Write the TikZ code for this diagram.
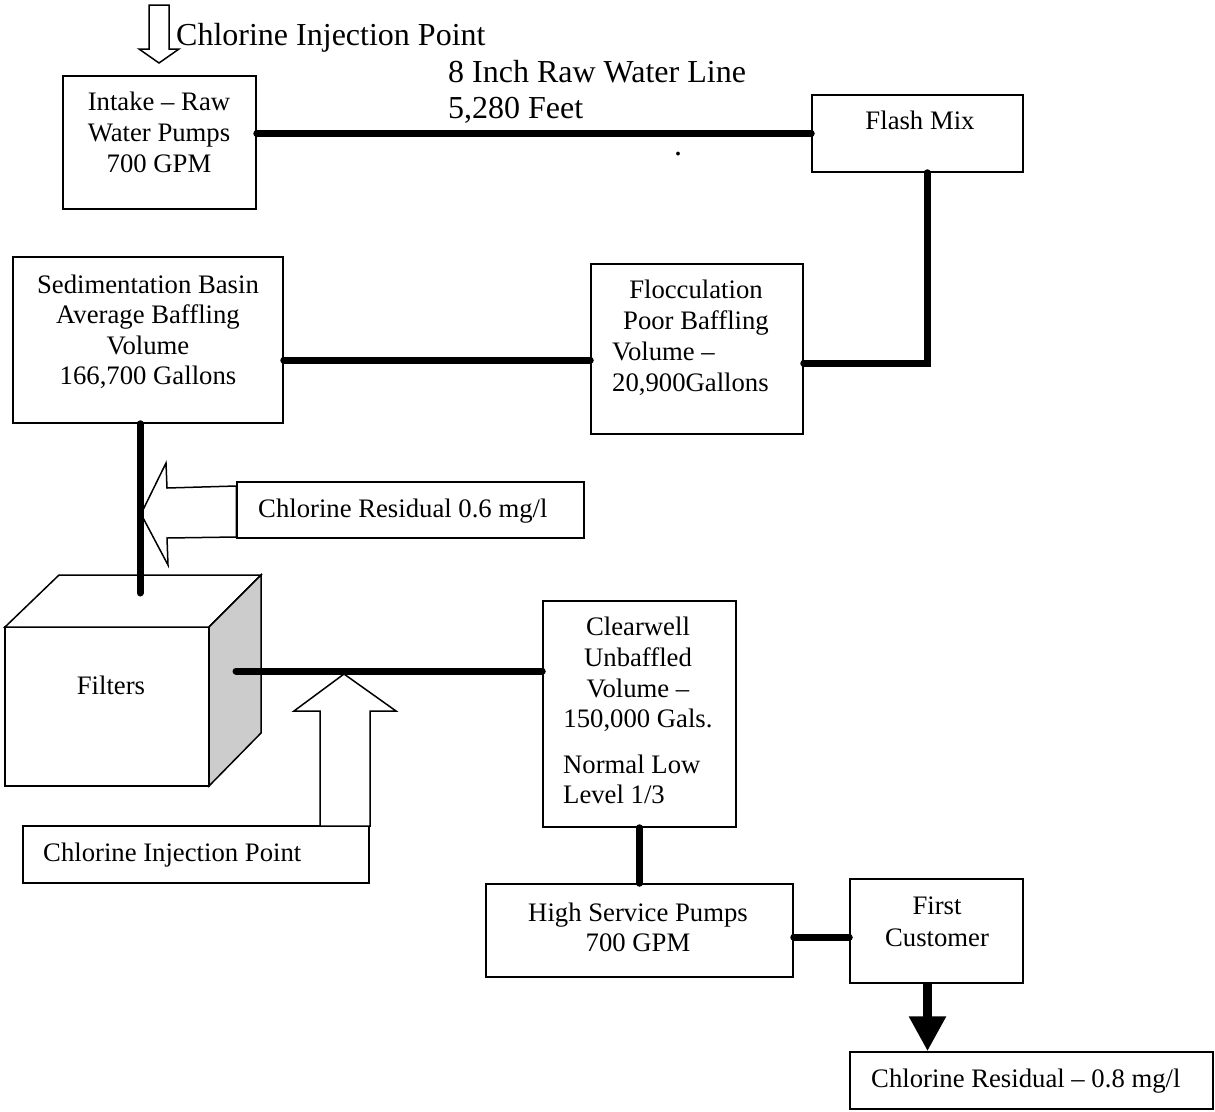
\documentclass[tikz,border=0pt]{standalone}
\usepackage{fontspec}
\setmainfont{Liberation Serif}
\usetikzlibrary{arrows.meta}
\newcommand\bxf{\fontsize{26.7}{30.7}\selectfont}
\newcommand\lgf{\fontsize{32}{36.8}\selectfont}
\tikzset{
  box/.style={draw, line width=1.5pt, inner sep=0pt},
  txt/.style={anchor=base, inner sep=0pt, font=\bxf},
  txtl/.style={anchor=base west, inner sep=0pt, font=\bxf},
  big/.style={anchor=base west, inner sep=0pt, font=\lgf},
  pipe/.style={line width=7pt, line cap=round},
  hollow/.style={draw, fill=white, line width=1.5pt, line join=miter},
}
\begin{document}
\begin{tikzpicture}[x=1pt,y=-1pt]
\useasboundingbox (0,0) rectangle (1215,1111);

% ---------- boxes ----------
\node[box, minimum width=193pt, minimum height=133pt] (intake) at (159.5,142.5) {};
\node[box, minimum width=211pt, minimum height=77pt] (flash) at (917.5,133.5) {};
\node[box, minimum width=212pt, minimum height=170pt] (flocc) at (697,349) {};
\node[box, minimum width=270pt, minimum height=166pt] (sed) at (148,340) {};
\node[box, minimum width=347pt, minimum height=56pt] (cr1) at (410.5,510) {};
\node[box, minimum width=346pt, minimum height=57pt] (cip) at (196,854.5) {};
\node[box, minimum width=193pt, minimum height=226pt] (clear) at (639.5,714) {};
\node[box, minimum width=307pt, minimum height=93pt] (hsp) at (639.5,930.5) {};
\node[box, minimum width=173pt, minimum height=104pt] (fc) at (936.5,931) {};
\node[box, minimum width=363pt, minimum height=57pt] (cr2) at (1031.5,1080.5) {};

% ---------- filters cube ----------
\draw[line width=1.5pt, line join=miter, fill=white] (5,627) rectangle (209,786);
\draw[line width=1.5pt, line join=miter, fill=white] (5,627) -- (59,575) -- (261,575) -- (209,627) -- cycle;
\draw[line width=1.5pt, line join=miter, fill=black!20] (209,627) -- (261,575) -- (261,733) -- (209,786) -- cycle;
\node[txt] (filters) at (111,694) {Filters};

% ---------- hollow arrows ----------
\coordinate (toptip) at (159,63);
\draw[hollow] (toptip) -- (139,49) -- (149,49) -- (149,5) -- (169,5) -- (169,49) -- (179,49) -- cycle;

\coordinate (lefttip) at (141,514);
\draw[hollow] (lefttip) -- (166,463) -- (167,488) -- (cr1.west |- 0,486) -- (cr1.west |- 0,537) -- (167,538) -- (168,565) -- cycle;

\coordinate (uptip) at (344,674);
\draw[hollow] (uptip) -- (396,711) -- (370,711) -- (370,826) -- (320,826) -- (320,711) -- (294,711) -- cycle;

% ---------- pipes ----------
\draw[pipe] (intake.east |- flash.west) -- (flash.west);
\coordinate (bend1) at (927,363);
\draw[pipe] (bend1 |- flash.south) -- (bend1) -- (bend1 -| flocc.east);
\coordinate (j2) at (440,360);
\draw[pipe] (sed.east |- j2) -- (flocc.west |- j2);
\coordinate (sedend) at (140,593);
\draw[pipe] (sedend |- sed.south) -- (sedend);
\coordinate (fstart) at (236,671);
\draw[pipe] (fstart) -- (fstart -| clear.west);
\draw[pipe] (clear.south) -- (clear.south |- hsp.north);
\coordinate (j7) at (820,937);
\draw[pipe] (hsp.east |- j7) -- (fc.west |- j7);
\coordinate (ar) at (927.5,1000);
\draw[line width=9pt, -{Triangle[width=35pt,length=35pt]}] (ar |- fc.south) -- (ar |- cr2.north);

% ---------- texts ----------
\node[big] (lblcip) at (176,45) {Chlorine Injection Point};
\node[big] (lbl8in) at (448,82) {8 Inch Raw Water Line};
\node[big] (lblft) at (448,118) {5,280 Feet};
\node[big] (dot) at (674,155) {.};

\node[txt] (t1a) at (159,110) {Intake – Raw};
\node[txt] (t1b) at (159,141) {Water Pumps};
\node[txt] (t1c) at (159,172) {700 GPM};

\node[txt] (t2) at (920,129) {Flash Mix};

\node[txt] (t3a) at (696,298) {Flocculation};
\node[txt] (t3b) at (696,329) {Poor Baffling};
\node[txtl] (t3c) at (612,360) {Volume –};
\node[txtl] (t3d) at (612,391) {20,900Gallons};

\node[txt] (t4a) at (148,293) {Sedimentation Basin};
\node[txt] (t4b) at (148,323) {Average Baffling};
\node[txt] (t4c) at (148,354) {Volume};
\node[txt] (t4d) at (148,384) {166,700 Gallons};

\node[txtl] (t5) at (258,517) {Chlorine Residual 0.6 mg/l};
\node[txtl] (t6) at (43,861) {Chlorine Injection Point};

\node[txt] (t7a) at (638,635) {Clearwell};
\node[txt] (t7b) at (638,666) {Unbaffled};
\node[txt] (t7c) at (638,697) {Volume –};
\node[txt] (t7d) at (638,727) {150,000 Gals.};
\node[txtl] (t7e) at (563,773) {Normal Low};
\node[txtl] (t7f) at (563,803) {Level 1/3};

\node[txt] (t8a) at (638,921) {High Service Pumps};
\node[txt] (t8b) at (638,951) {700 GPM};

\node[txt] (t9a) at (937,914) {First};
\node[txt] (t9b) at (937,946) {Customer};

\node[txtl] (t10) at (871,1087) {Chlorine Residual – 0.8 mg/l};
\end{tikzpicture}
\end{document}
